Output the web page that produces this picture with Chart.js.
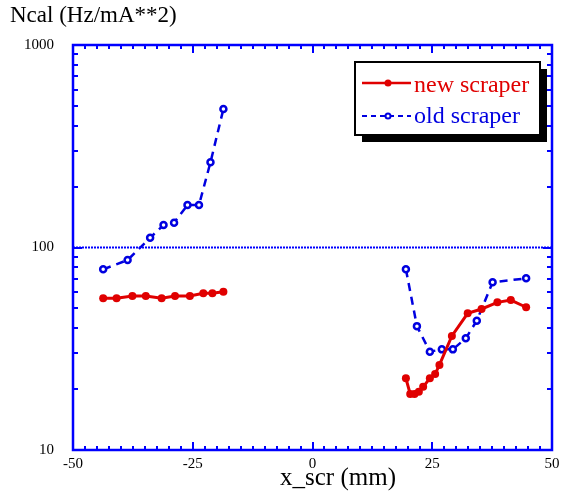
<!DOCTYPE html>
<html>
<head>
<meta charset="utf-8">
<script src="https://cdn.jsdelivr.net/npm/chart.js@4"></script>
<style>
  html, body { margin: 0; padding: 0; background: #fff; }
  #wrap { width: 562px; height: 501px; }
</style>
</head>
<body>
<div id="wrap"><canvas id="ncalChart" width="562" height="501"></canvas></div>
<script>
// readings (x in mm, Ncal in Hz/mA**2)
const newX = [-43.7, -40.9, -37.6, -34.8, -31.5, -28.7, -25.6, -22.8, -20.9, -18.6,
  null,
  19.5, 20.4, 21.3, 22.2, 23.1, 24.5, 25.6, 26.5, 29.1, 32.4, 35.3, 38.6, 41.4, 44.6];
const newY = [56.1, 56.1, 57.6, 57.6, 56.1, 57.6, 57.6, 59.4, 59.4, 60.5,
  null,
  22.6, 18.9, 18.9, 19.4, 20.5, 22.6, 23.7, 26.3, 36.6, 47.3, 49.7, 53.6, 55.0, 50.7];
const oldX = [-43.7, -38.6, -33.9, -31.1, -28.9, -26.1, -23.7, -21.3, -18.6,
  null,
  19.5, 21.8, 24.5, 27.0, 29.3, 32.0, 34.3, 37.6, 44.6];
const oldY = [78.0, 86.7, 111.7, 129.1, 132.5, 162, 162, 263.5, 483,
  null,
  78.0, 40.9, 30.6, 31.4, 31.4, 35.6, 43.5, 67.3, 70.4];
const xTicks = [-50, -25, 0, 25, 50];
const yTicks = [10, 100, 1000];

const RED = "#e00000";
const BLUE = "#0000e0";
const AXIS = "#0000ff";
const SERIF = "'Liberation Serif', 'DejaVu Serif', serif";

function toPoints(xs, ys) {
  return xs.map((x, i) => (x === null ? { x: null, y: null } : { x: x, y: ys[i] }));
}

const frame = {
  id: "frame",
  afterDatasetsDraw(chart) {
    const ctx = chart.ctx;
    const a = chart.chartArea;
    const xs = chart.scales.x;
    const ys = chart.scales.y;
    ctx.save();
    // dotted line at 100
    ctx.strokeStyle = AXIS;
    ctx.lineWidth = 2;
    ctx.setLineDash([2, 1]);
    const y100 = ys.getPixelForValue(100);
    ctx.beginPath();
    ctx.moveTo(a.left, y100);
    ctx.lineTo(a.right, y100);
    ctx.stroke();
    ctx.setLineDash([]);
    // ticks
    ctx.lineWidth = 2;
    ctx.beginPath();
    for (let v = -50; v <= 50.001; v += 2.5) {
      const px = Math.round(xs.getPixelForValue(v));
      const len = Math.abs(v % 25) < 0.01 ? 8 : 4;
      ctx.moveTo(px, a.bottom); ctx.lineTo(px, a.bottom - len);
      ctx.moveTo(px, a.top); ctx.lineTo(px, a.top + len);
    }
    for (let d = 10; d < 1000; d *= 10) {
      for (let k = 1; k <= 9; k++) {
        const py = Math.round(ys.getPixelForValue(k * d));
        const len = k === 1 ? 9 : 5;
        ctx.moveTo(a.left, py); ctx.lineTo(a.left + len, py);
        ctx.moveTo(a.right, py); ctx.lineTo(a.right - len, py);
      }
    }
    ctx.stroke();
    ctx.lineWidth = 2.5;
    ctx.strokeRect(a.left, a.top, a.right - a.left, a.bottom - a.top);

    // titles
    ctx.fillStyle = "#000";
    ctx.font = "23px " + SERIF;
    ctx.textBaseline = "middle";
    ctx.textAlign = "left";
    ctx.fillText("Ncal (Hz/mA**2)", 10, 16);
    ctx.font = "25px " + SERIF;
    ctx.textAlign = "center";
    ctx.fillText("x_scr (mm)", 338, 478);
    ctx.textAlign = "left";

    // legend
    const lx = 355, ly = 62, lw = 185, lh = 73;
    ctx.fillStyle = "#000";
    ctx.fillRect(lx + 7, ly + 7, lw, lh);
    ctx.fillStyle = "#fff";
    ctx.fillRect(lx, ly, lw, lh);
    ctx.strokeStyle = "#000";
    ctx.lineWidth = 2;
    ctx.strokeRect(lx, ly, lw, lh);

    ctx.font = "24px " + SERIF;
    ctx.strokeStyle = RED;
    ctx.lineWidth = 2.5;
    ctx.beginPath(); ctx.moveTo(362, 83); ctx.lineTo(411, 83); ctx.stroke();
    ctx.fillStyle = RED;
    ctx.beginPath(); ctx.arc(388, 83, 3.5, 0, Math.PI * 2); ctx.fill();
    ctx.fillText("new scraper", 414, 86);

    ctx.strokeStyle = BLUE;
    ctx.lineWidth = 2;
    ctx.setLineDash([5, 4]);
    ctx.beginPath(); ctx.moveTo(362, 116); ctx.lineTo(411, 116); ctx.stroke();
    ctx.setLineDash([]);
    ctx.fillStyle = "#fff";
    ctx.beginPath(); ctx.arc(388, 116, 2.5, 0, Math.PI * 2); ctx.fill(); ctx.stroke();
    ctx.fillStyle = BLUE;
    ctx.fillText("old scraper", 414, 117);
    ctx.restore();
  }
};

new Chart(document.getElementById("ncalChart").getContext("2d"), {
  type: "scatter",
  data: {
    datasets: [
      {
        label: "new scraper",
        data: toPoints(newX, newY),
        showLine: true,
        spanGaps: false,
        borderColor: RED,
        backgroundColor: RED,
        borderWidth: 3,
        pointRadius: 4,
        pointBorderWidth: 0,
        pointBackgroundColor: RED,
      },
      {
        label: "old scraper",
        data: toPoints(oldX, oldY),
        showLine: true,
        spanGaps: false,
        borderColor: BLUE,
        backgroundColor: "#fff",
        borderWidth: 2.5,
        borderDash: [8, 6],
        pointRadius: 3,
        pointBorderWidth: 2.5,
        pointBorderColor: BLUE,
        pointBackgroundColor: "#fff",
      },
    ],
  },
  options: {
    responsive: false,
    animation: false,
    layout: { padding: { top: 45, right: 0, left: 0, bottom: 0 } },
    plugins: { legend: { display: false }, tooltip: { enabled: false } },
    scales: {
      x: {
        type: "linear",
        min: -50,
        max: 50,
        afterBuildTicks: (s) => { s.ticks = xTicks.map((v) => ({ value: v })); },
        grid: { display: false, drawTicks: false },
        border: { display: false },
        ticks: { color: "#000", font: { family: SERIF, size: 15 }, padding: 5, maxRotation: 0 },
        afterFit: (s) => { s.height = 51; s.paddingRight = 10; s.paddingLeft = 0; },
      },
      y: {
        type: "logarithmic",
        min: 10,
        max: 1000,
        afterBuildTicks: (s) => { s.ticks = yTicks.map((v) => ({ value: v })); },
        grid: { display: false, drawTicks: false },
        border: { display: false },
        ticks: {
          color: "#000",
          font: { family: SERIF, size: 15 },
          padding: 19,
          callback: (v) => String(v),
        },
        afterFit: (s) => { s.width = 73; },
      },
    },
  },
  plugins: [frame],
});
</script>
</body>
</html>
